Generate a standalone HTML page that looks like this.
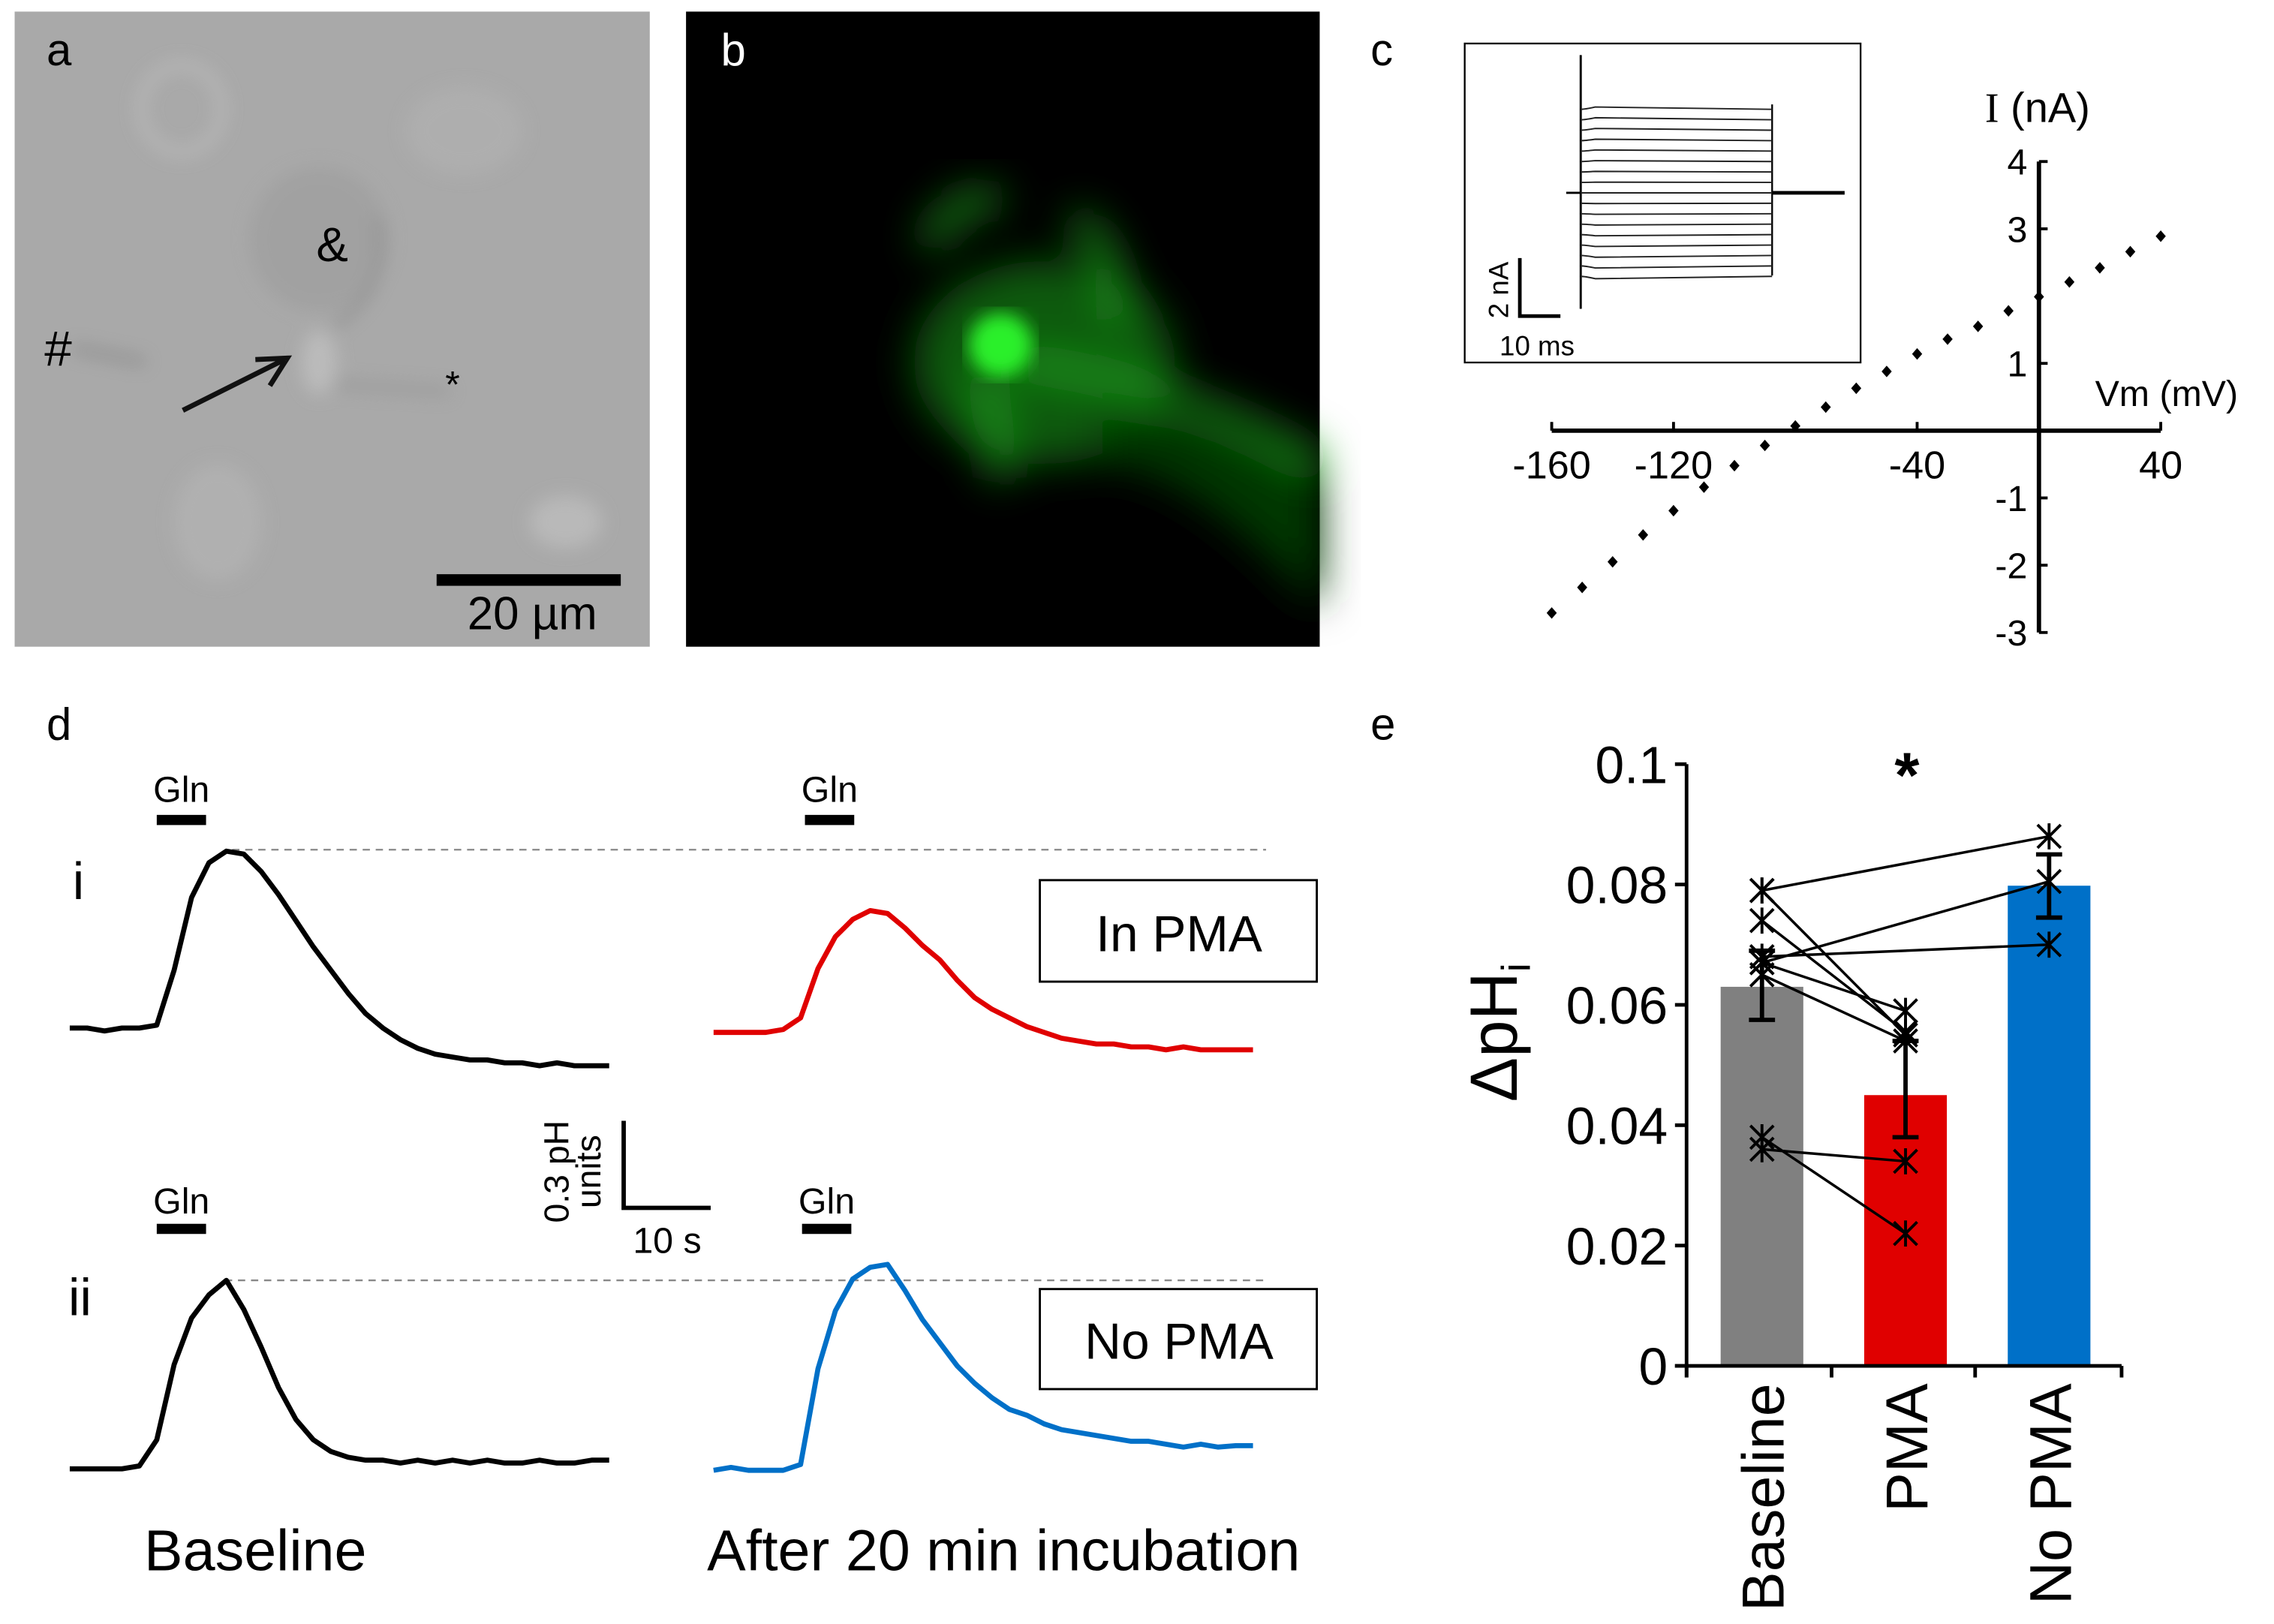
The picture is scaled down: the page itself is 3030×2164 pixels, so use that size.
<!DOCTYPE html>
<html><head><meta charset="utf-8"><style>
html,body{margin:0;padding:0;background:#fff;}
svg{display:block;font-family:"Liberation Sans",Arial,sans-serif;}
</style></head><body>
<svg id="fig" width="3030" height="2164" viewBox="0 0 1568 1120" xmlns="http://www.w3.org/2000/svg">
<defs>
<filter id="blur6"><feGaussianBlur stdDeviation="6"/></filter>
<filter id="blur14"><feGaussianBlur stdDeviation="14"/></filter>
</defs>
<rect width="1568" height="1120" fill="#fff"/>

<!-- Panel a -->
<g>
<rect x="10" y="8" width="438" height="438" fill="#a9a9a9"/>
<g filter="url(#blur6)" opacity="0.6">
<ellipse cx="125" cy="75" rx="28" ry="30" fill="none" stroke="#c8c8c8" stroke-width="5"/>
<ellipse cx="220" cy="165" rx="48" ry="50" fill="#9c9c9c"/>
<path d="M260,150 Q270,200 230,225" stroke="#777" stroke-width="4" fill="none"/>
<ellipse cx="220" cy="250" rx="12" ry="22" fill="#c8c8c8"/>
<path d="M50,240 L100,250" stroke="#777" stroke-width="5"/>
<path d="M230,265 L310,270" stroke="#8a8a8a" stroke-width="5"/>
<ellipse cx="390" cy="360" rx="25" ry="18" fill="#c4c4c4"/>
<ellipse cx="150" cy="360" rx="30" ry="40" fill="#b6b6b6"/>
<ellipse cx="320" cy="90" rx="40" ry="30" fill="#b2b2b2"/>
</g>
<text x="32" y="45" font-size="31">a</text>
<text x="229" y="180" font-size="33" text-anchor="middle">&amp;</text>
<text x="40" y="252" font-size="34" text-anchor="middle">#</text>
<text x="312" y="274" font-size="26" text-anchor="middle">*</text>
<path d="M126,283 L196,248 M176,248 L198,247 L186,266" stroke="#111" stroke-width="3.5" fill="none"/>
<rect x="301" y="396" width="127" height="8" fill="#000"/>
<text x="367" y="434" font-size="32" text-anchor="middle">20 µm</text>
</g>

<!-- Panel b -->
<g>
<rect x="473" y="8" width="437" height="438" fill="#000"/>
<g filter="url(#blur14)">
<ellipse cx="720" cy="250" rx="90" ry="70" fill="#0d5a0d"/>
<path d="M640,170 Q660,130 690,140 M740,150 Q770,170 770,220 M680,260 L690,330 M700,250 Q800,260 910,320" stroke="#1c9a1c" stroke-width="14" fill="none"/>
<path d="M760,280 Q840,300 910,330 L910,420 Q820,320 760,320Z" fill="#063806"/>
</g>
<ellipse cx="690" cy="238" rx="22" ry="22" fill="#2cf02c" filter="url(#blur6)"/>
<text x="497" y="45" font-size="31" fill="#fff">b</text>
</g>

<!-- Panel c -->
<g id="panelC">
<text x="945" y="45" font-size="31">c</text>
<rect x="1010" y="30" width="273" height="220" fill="none" stroke="#000" stroke-width="1.2"/>
<g id="inset"></g>
<path d="M1048,178 L1048,218 L1076,218" stroke="#000" stroke-width="2.5" fill="none"/>
<text x="1040" y="200" font-size="19" text-anchor="middle" transform="rotate(-90 1040 200)">2 nA</text>
<text x="1034" y="245" font-size="19">10 ms</text>
<g id="ivAxes"></g>
<text x="1405" y="84" font-size="29" text-anchor="middle"><tspan font-family="Liberation Serif">I</tspan> (nA)</text>
<text x="1494" y="280" font-size="25" text-anchor="middle">Vm (mV)</text>
</g>

<!-- Panel d -->
<g id="panelD">
<text x="32" y="510" font-size="31">d</text>
<text x="50" y="620" font-size="36">i</text>
<text x="47" y="907" font-size="36">ii</text>
<rect x="717" y="607" width="191" height="70" fill="none" stroke="#000" stroke-width="1.5"/>
<text x="813" y="656" font-size="35" text-anchor="middle">In PMA</text>
<rect x="717" y="889" width="191" height="69" fill="none" stroke="#000" stroke-width="1.5"/>
<text x="813" y="937" font-size="35" text-anchor="middle">No PMA</text>
<text x="176" y="1083" font-size="40" text-anchor="middle">Baseline</text>
<text x="692" y="1083" font-size="40" text-anchor="middle">After 20 min incubation</text>
<path d="M430,773 L430,833 L490,833" stroke="#000" stroke-width="3" fill="none"/>
<text x="392" y="808" font-size="24" text-anchor="middle" transform="rotate(-90 392 808)">0.3 pH</text>
<text x="414" y="808" font-size="24" text-anchor="middle" transform="rotate(-90 414 808)">units</text>
<text x="460" y="864" font-size="25" text-anchor="middle">10 s</text>
<line x1="160" y1="586" x2="873" y2="586" stroke="#888" stroke-width="1.2" stroke-dasharray="5,4"/>
<line x1="155" y1="883" x2="873" y2="883" stroke="#888" stroke-width="1.2" stroke-dasharray="5,4"/>
<g><rect x="108" y="562" width="34" height="7" fill="#000"/><text x="125" y="553" font-size="25" text-anchor="middle">Gln</text></g>
<g><rect x="555" y="562" width="34" height="7" fill="#000"/><text x="572" y="553" font-size="25" text-anchor="middle">Gln</text></g>
<g><rect x="108" y="844" width="34" height="7" fill="#000"/><text x="125" y="837" font-size="25" text-anchor="middle">Gln</text></g>
<g><rect x="553" y="844" width="34" height="7" fill="#000"/><text x="570" y="837" font-size="25" text-anchor="middle">Gln</text></g>
<g id="traces"></g>
</g>

<!-- Panel e -->
<g id="panelE">
<text x="945" y="510" font-size="31">e</text>
<text x="1315" y="550" font-size="44" font-weight="bold" text-anchor="middle">*</text>
<text x="1046" y="712" font-size="46" text-anchor="middle" transform="rotate(-90 1046 712)">ΔpH<tspan font-size="28" dy="9">i</tspan></text>
<g id="barsE"></g>
</g>
</svg>
<script>
const NS='http://www.w3.org/2000/svg';
function mk(tag,attrs,parent){const e=document.createElementNS(NS,tag);for(const k in attrs)e.setAttribute(k,attrs[k]);parent.appendChild(e);return e;}

// ---- Panel c data ----
const ivVoltages=[-160,-150,-140,-130,-120,-110,-100,-90,-80,-70,-60,-50,-40,-30,-20,-10,0,10,20,30,40];
const ivCurrents=[-2.71,-2.33,-1.95,-1.55,-1.19,-0.84,-0.52,-0.22,0.07,0.35,0.63,0.88,1.14,1.36,1.55,1.78,1.99,2.21,2.42,2.66,2.89];
const ivXTicks=[-160,-120,-40,40];
const ivYTicks=[4,3,1,-1,-2,-3];
const insetSteps=[-8,-7,-6,-5,-4,-3,-2,-1,0,1,2,3,4,5,6,7,8];

const vx=v=>1070+(v+160)*2.1;
const iy=i=>297-i*46.4;
const ivg=document.getElementById('ivAxes');
let l=mk('line',{x1:vx(-160),y1:297,x2:vx(40),y2:297,stroke:'#000','stroke-width':3},ivg);

l=mk('line',{x1:vx(0),y1:iy(4),x2:vx(0),y2:iy(-3),stroke:'#000','stroke-width':3},ivg);

ivXTicks.forEach(t=>{mk('line',{x1:vx(t),y1:297,x2:vx(t),y2:291,stroke:'#000','stroke-width':2},ivg);
 const tx=mk('text',{x:vx(t),y:330,'font-size':27,'text-anchor':'middle'},ivg);tx.textContent=t;
 });
ivYTicks.forEach(t=>{mk('line',{x1:vx(0),y1:iy(t),x2:vx(0)+6,y2:iy(t),stroke:'#000','stroke-width':2},ivg);
 const tx=mk('text',{x:vx(0)-8,y:iy(t)+9,'font-size':25,'text-anchor':'end'},ivg);tx.textContent=t;
 });
ivVoltages.forEach((v,k)=>{const x=vx(v),y=iy(ivCurrents[k]);
 const p=mk('path',{d:`M${x},${y-4}L${x+3.5},${y}L${x},${y+4}L${x-3.5},${y}Z`,fill:'#000'},ivg);
 });
// inset traces
const ins=document.getElementById('inset');
mk('line',{x1:1080,y1:133,x2:1090,y2:133,stroke:'#000','stroke-width':1.5},ins);
mk('line',{x1:1090,y1:38,x2:1090,y2:213,stroke:'#000','stroke-width':1.5},ins);
mk('line',{x1:1222,y1:72,x2:1222,y2:190,stroke:'#000','stroke-width':1.2},ins);
mk('line',{x1:1222,y1:133,x2:1272,y2:133,stroke:'#000','stroke-width':2.5},ins);
insetSteps.forEach(s=>{const y=133-s*7.2;
 const p=mk('path',{d:`M1090,${y}Q1093,${y} 1100,${y-s*0.2} L1222,${y}`,stroke:'#222','stroke-width':1,fill:'none'},ins);
 });

// ---- Panel d data (relative pH, sampled every 2 s) ----
const traceBaselineI=[0,0,-0.01,0,0,0.01,0.2,0.45,0.57,0.61,0.6,0.54,0.46,0.37,0.28,0.2,0.12,0.05,0,-0.04,-0.07,-0.09,-0.1,-0.11,-0.11,-0.12,-0.12,-0.13,-0.12,-0.13,-0.13,-0.13];
const traceInPMA=[0,0,0,0,0.01,0.05,0.22,0.33,0.39,0.42,0.41,0.36,0.3,0.25,0.18,0.12,0.08,0.05,0.02,0,-0.02,-0.03,-0.04,-0.04,-0.05,-0.05,-0.06,-0.05,-0.06,-0.06,-0.06,-0.06];
const traceBaselineII=[0,0,0,0,0.01,0.1,0.36,0.52,0.6,0.65,0.55,0.42,0.28,0.17,0.1,0.06,0.04,0.03,0.03,0.02,0.03,0.02,0.03,0.02,0.03,0.02,0.02,0.03,0.02,0.02,0.03,0.03];
const traceNoPMA=[0,0.01,0,0,0,0.02,0.35,0.55,0.66,0.7,0.71,0.62,0.52,0.44,0.36,0.3,0.25,0.21,0.19,0.16,0.14,0.13,0.12,0.11,0.1,0.1,0.09,0.08,0.09,0.08,0.085,0.085];
const pxPerSec=6, pxPerPH=200, dt=2;
const tr=document.getElementById('traces');
function drawTrace(vals,x0,y0,color,name){
 const d=vals.map((v,k)=>(k?'L':'M')+(x0+k*dt*pxPerSec)+','+(y0-v*pxPerPH)).join('');
 const p=mk('path',{d:d,stroke:color,'stroke-width':3.5,fill:'none','stroke-linejoin':'round'},tr);
 }
drawTrace(traceBaselineI,48,709,'#000','trace-baseline-i');
drawTrace(traceInPMA,492,712,'#e00000','trace-in-pma');
drawTrace(traceBaselineII,48,1013,'#000','trace-baseline-ii');
drawTrace(traceNoPMA,492,1014,'#0070c8','trace-no-pma');

// ---- Panel e data ----
const barCategories=['Baseline','PMA','No PMA'];
const barMeans=[0.063,0.045,0.0798];
const barErrLow=[0.0575,0.038,0.0745];
const barErrHigh=[0.069,0.054,0.085];
const barColors=['#808080','#e00000','#0070c8'];
const yTicksE=[0,0.02,0.04,0.06,0.08,0.1];
const yTickLabelsE=['0','0.02','0.04','0.06','0.08','0.1'];
const pairsPMA=[[0.079,0.055],[0.074,0.0555],[0.067,0.059],[0.065,0.054],[0.038,0.022],[0.036,0.034]];
const pairsNoPMA=[[0.079,0.088],[0.067,0.0805],[0.068,0.070]];

const bx=i=>1215+i*99;
const by=v=>942-v*4150;
const eg=document.getElementById('barsE');
barCategories.forEach((c,i)=>{
 const r=mk('rect',{x:bx(i)-28.5,y:by(barMeans[i]),width:57,height:942-by(barMeans[i]),fill:barColors[i]},eg);
 
 const t=mk('text',{x:bx(i)+15,y:954,'font-size':41,'text-anchor':'end',transform:`rotate(-90 ${bx(i)+15} 954)`},eg);
 t.textContent=c;
});
l=mk('line',{x1:1163,y1:by(0.1),x2:1163,y2:950,stroke:'#000','stroke-width':2.5},eg);

l=mk('line',{x1:1155,y1:942,x2:1463,y2:942,stroke:'#000','stroke-width':2.5},eg);

[1163,1263,1362,1463].forEach(x=>mk('line',{x1:x,y1:942,x2:x,y2:950,stroke:'#000','stroke-width':2.5},eg));
yTicksE.forEach((v,k)=>{mk('line',{x1:1155,y1:by(v),x2:1163,y2:by(v),stroke:'#000','stroke-width':2.5},eg);
 const t=mk('text',{x:1150,y:by(v)+13,'font-size':36,'text-anchor':'end'},eg);t.textContent=yTickLabelsE[k];
 });
function star(x,y){const s=8;const g=mk('g',{stroke:'#000','stroke-width':2},eg);
 
 mk('line',{x1:x-s,y1:y-s,x2:x+s,y2:y+s},g);mk('line',{x1:x-s,y1:y+s,x2:x+s,y2:y-s},g);mk('line',{x1:x,y1:y-s-1,x2:x,y2:y+s+1},g);}
pairsPMA.forEach(p=>{const ln=mk('line',{x1:bx(0),y1:by(p[0]),x2:bx(1),y2:by(p[1]),stroke:'#000','stroke-width':1.8},eg);
 star(bx(0),by(p[0]));star(bx(1),by(p[1]));});
pairsNoPMA.forEach(p=>{const ln=mk('line',{x1:bx(0),y1:by(p[0]),x2:bx(2),y2:by(p[1]),stroke:'#000','stroke-width':1.8},eg);
 star(bx(0),by(p[0]));star(bx(2),by(p[1]));});
barCategories.forEach((c,i)=>{const g=mk('g',{stroke:'#000','stroke-width':3},eg);
 
 mk('line',{x1:bx(i),y1:by(barErrLow[i]),x2:bx(i),y2:by(barErrHigh[i])},g);
 mk('line',{x1:bx(i)-9,y1:by(barErrLow[i]),x2:bx(i)+9,y2:by(barErrLow[i])},g);
 mk('line',{x1:bx(i)-9,y1:by(barErrHigh[i]),x2:bx(i)+9,y2:by(barErrHigh[i])},g);});
</script>
</body></html>
